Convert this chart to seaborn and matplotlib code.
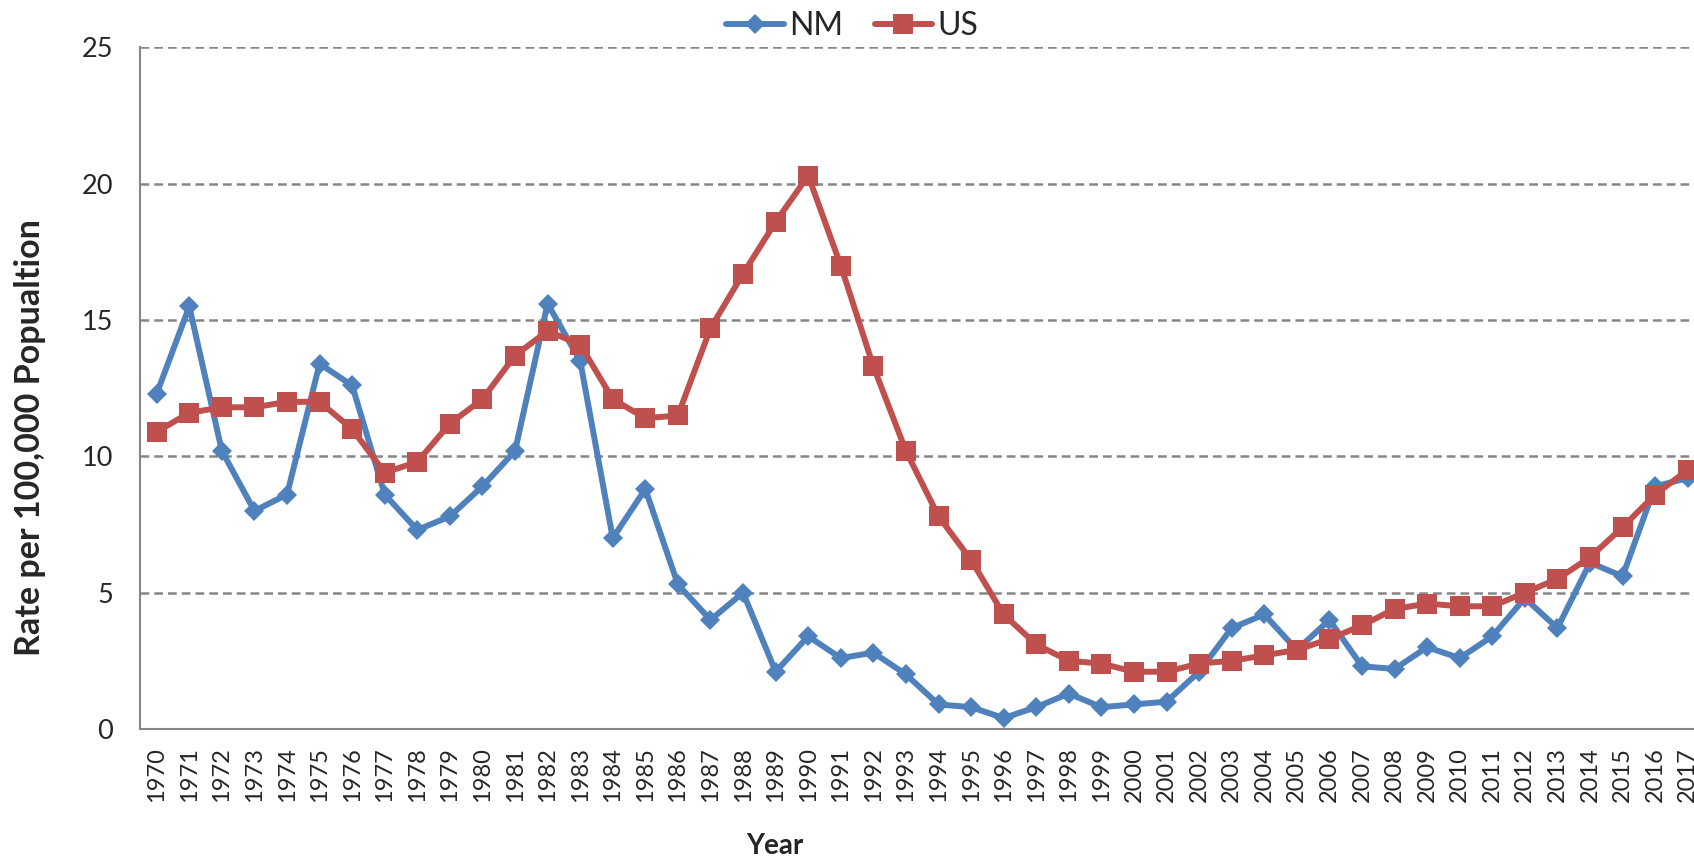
import numpy as np
import pandas as pd
import matplotlib
matplotlib.use('Agg')
import matplotlib.pyplot as plt
import seaborn as sns
from matplotlib.lines import Line2D

years = list(range(1970, 2018))
nm_rate = [12.3, 15.5, 10.2, 8.0, 8.6, 13.4, 12.6, 8.6, 7.3, 7.8,
           8.9, 10.2, 15.6, 13.5, 7.0, 8.8, 5.3, 4.0, 5.0, 2.1,
           3.4, 2.6, 2.8, 2.0, 0.9, 0.8, 0.4, 0.8, 1.3, 0.8,
           0.9, 1.0, 2.1, 3.7, 4.2, 2.9, 4.0, 2.3, 2.2, 3.0,
           2.6, 3.4, 4.8, 3.7, 6.1, 5.6, 8.9, 9.2]
us_rate = [10.9, 11.6, 11.8, 11.8, 12.0, 12.0, 11.0, 9.4, 9.8, 11.2,
           12.1, 13.7, 14.6, 14.1, 12.1, 11.4, 11.5, 14.7, 16.7, 18.6,
           20.3, 17.0, 13.3, 10.2, 7.8, 6.2, 4.2, 3.1, 2.5, 2.4,
           2.1, 2.1, 2.4, 2.5, 2.7, 2.9, 3.3, 3.8, 4.4, 4.6,
           4.5, 4.5, 5.0, 5.5, 6.3, 7.4, 8.6, 9.5]
series_names = ['NM', 'US']
series_colors = ['#4F81BD', '#C0504D']

df = pd.DataFrame({'Year': years * 2,
                   'Rate': nm_rate + us_rate,
                   'Area': ['NM'] * len(years) + ['US'] * len(years)})

sns.set_style('white')
plt.rcParams['font.family'] = ['Lato', 'DejaVu Sans']

LW = 4.3
MS = {'NM': 10.2, 'US': 14}
GREY = '#868686'

fig = plt.figure(figsize=(16.94, 8.57), dpi=100)
ax = fig.add_axes([0.0829, 0.1494, 0.923, 0.7952])

sns.lineplot(data=df, x='Year', y='Rate', hue='Area', style='Area',
             markers={'NM': 'D', 'US': 's'}, dashes=False,
             palette=dict(zip(series_names, series_colors)),
             linewidth=LW, markeredgewidth=0,
             ax=ax, legend=False)
for line, name in zip(ax.lines, series_names):
    line.set_markersize(MS[name])

ax.set_xlim(1969.5, 2017.5)
ax.set_ylim(0, 25)
ax.set_yticks([0, 5, 10, 15, 20, 25])
ax.set_xticks(years)
ax.set_xticklabels([str(y) for y in years], rotation=90)
ax.set_xticks(np.arange(1969.5, 2018, 1), minor=True)
ax.tick_params(axis='x', which='major', length=0, pad=13, labelsize=17)
ax.tick_params(axis='x', which='minor', length=5.8, width=1.5, color=GREY)
ax.tick_params(axis='y', length=5.8, width=1.5, color=GREY, labelsize=19.5, pad=14)

ax.yaxis.grid(True, linestyle=(0, (3.5, 2)), color=GREY, linewidth=1.8)
ax.set_axisbelow(True)
for side in ['top', 'right']:
    ax.spines[side].set_visible(False)
for side in ['left', 'bottom']:
    ax.spines[side].set_color(GREY)
    ax.spines[side].set_linewidth(1.5)

ax.set_xlabel('Year', fontsize=20, fontweight='bold', va='center')
ax.xaxis.set_label_coords(0.4058, -0.172)
ax.set_ylabel('Rate per 100,000 Popualtion', fontsize=24.5, fontweight='bold', va='center')
ax.yaxis.set_label_coords(-0.0706, 0.428)

handles = [Line2D([0], [0], color=series_colors[0], lw=LW, marker='D', ms=MS['NM'],
                  mew=0, solid_capstyle='round'),
           Line2D([0], [0], color=series_colors[1], lw=LW, marker='s', ms=MS['US'],
                  mew=0, solid_capstyle='round')]
fig.legend(handles=handles, labels=series_names, loc='center', ncol=2,
           bbox_to_anchor=(0.503, 0.970), frameon=False, fontsize=23,
           handlelength=1.8, columnspacing=1.0, handletextpad=0.15)

fig.savefig('out.png', dpi=100)
